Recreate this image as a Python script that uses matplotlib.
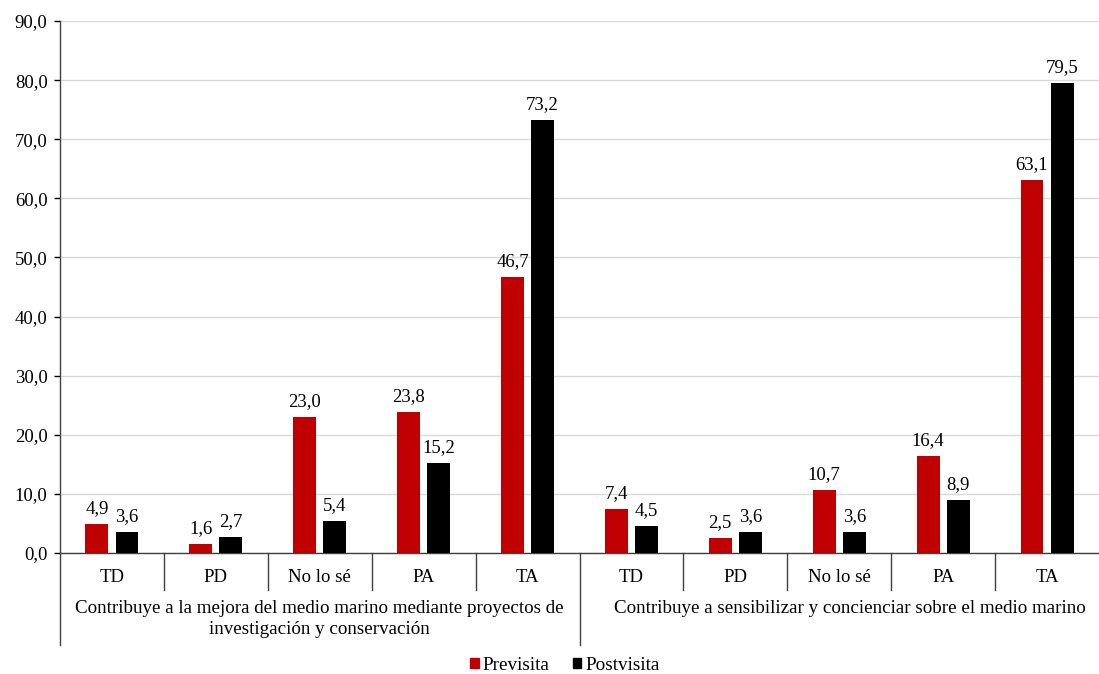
import numpy as np
import matplotlib.pyplot as plt
from matplotlib.patches import Patch
from matplotlib import transforms

plt.rcParams['font.family'] = ['Liberation Serif', 'DejaVu Serif']

categories = ["TD", "PD", "No lo sé", "PA", "TA"] * 2
groups = [
    "Contribuye a la mejora del medio marino mediante proyectos de\ninvestigación y conservación",
    "Contribuye a sensibilizar y concienciar sobre el medio marino",
]
previsita = [4.9, 1.6, 23.0, 23.8, 46.7, 7.4, 2.5, 10.7, 16.4, 63.1]
postvisita = [3.6, 2.7, 5.4, 15.2, 73.2, 4.5, 3.6, 3.6, 8.9, 79.5]
yticks = [0, 10, 20, 30, 40, 50, 60, 70, 80, 90]

RED = "#C00000"
BLACK = "#000000"

def fmt(v):
    return f"{v:.1f}".replace(".", ",")

fig = plt.figure(figsize=(10.99, 6.74), dpi=100)
ax = fig.add_axes([0.0546, 0.1795, 0.9454, 0.7893])

x = np.arange(len(categories))
w = 0.22
off = 0.145
b1 = ax.bar(x - off, previsita, w, color=RED, label="Previsita", zorder=3)
b2 = ax.bar(x + off, postvisita, w, color=BLACK, label="Postvisita", zorder=3)

for bars, vals in ((b1, previsita), (b2, postvisita)):
    for r, v in zip(bars, vals):
        ax.annotate(fmt(v), (r.get_x() + r.get_width() / 2, v),
                    xytext=(0, 5), textcoords="offset points",
                    ha="center", va="bottom", fontsize=13.5)

ax.set_xlim(-0.5, len(categories) - 0.5)
ax.set_ylim(0, 90)
ax.set_yticks(yticks)
ax.set_yticklabels([fmt(t) for t in yticks], fontsize=13.5)
ax.tick_params(axis="y", length=4, width=1, direction="out", pad=5)
ax.set_xticks([])
ax.yaxis.grid(True, color="#D9D9D9", linewidth=1, zorder=0)
ax.set_axisbelow(True)
for s in ("top", "right"):
    ax.spines[s].set_visible(False)
ax.spines["left"].set_color("#404040")
ax.spines["bottom"].set_color("#404040")
ax.spines["left"].set_linewidth(1)
ax.spines["bottom"].set_linewidth(1)

trans = transforms.blended_transform_factory(ax.transData, ax.transAxes)
px = 1.0 / 532.0  # axes height in pixels

# category labels
for xi, c in zip(x, categories):
    ax.text(xi, -24 * px, c, transform=trans, ha="center", va="center", fontsize=13.5)

# separators: short between categories, long at group boundaries
for xs in np.arange(-0.5, len(categories) - 0.5, 1.0):
    depth = 92 if xs in (-0.5, 4.5) else 37
    ax.plot([xs, xs], [0, -depth * px], transform=trans, color="#404040",
            lw=1, clip_on=False)

# group labels
ax.text(2.0, -66 * px, groups[0], transform=trans, ha="center", va="center",
        fontsize=13.7, linespacing=1.35)
ax.text(7.1, -55 * px, groups[1], transform=trans, ha="center", va="center",
        fontsize=13.7)

handles = [Patch(color=RED, label="Previsita"), Patch(color=BLACK, label="Postvisita")]
fig.legend(handles=handles, loc="lower center", bbox_to_anchor=(0.514, -0.025),
           ncol=2, frameon=False, fontsize=13.8, handlelength=0.45,
           handleheight=0.45, handletextpad=0.2, columnspacing=1.2)

fig.savefig("out.png", dpi=100, facecolor="white")
